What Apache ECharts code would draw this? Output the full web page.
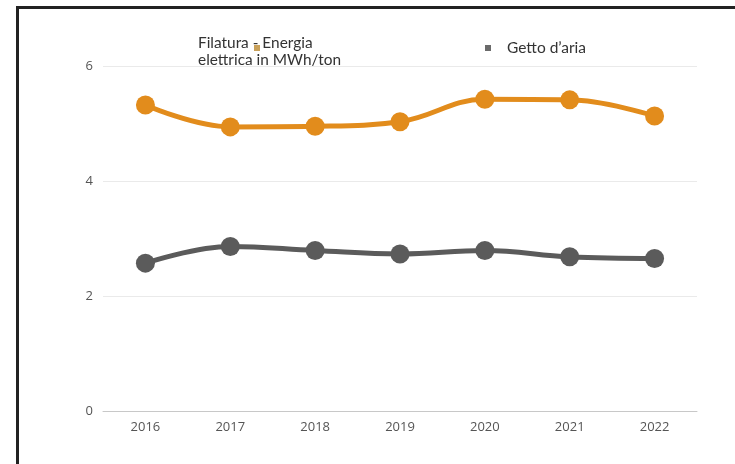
<!DOCTYPE html>
<html>
<head>
<meta charset="utf-8">
<script src="https://cdn.jsdelivr.net/npm/echarts@6/dist/echarts.min.js"></script>
<style>
  html, body { margin: 0; padding: 0; background: #fff; }
  #chart { width: 735px; height: 464px; }
</style>
</head>
<body>
<div id="chart"></div>
<script>
// Years on the category axis
const years = ['2016', '2017', '2018', '2019', '2020', '2021', '2022'];

// Spinning – electricity (MWh/ton)
const filaturaName = 'Filatura - Energia elettrica in MWh/ton';
const filaturaValues = [5.33, 4.95, 4.96, 5.04, 5.43, 5.42, 5.14];

// Air-jet
const gettoName = 'Getto d\u2019aria';
const gettoValues = [2.58, 2.87, 2.80, 2.74, 2.80, 2.69, 2.66];

// Value-axis ticks
const yTicks = [0, 2, 4, 6];

const ORANGE = '#E28C1C';
const GREY = '#5B5B5B';

const chart = echarts.init(document.getElementById('chart'), null, { renderer: 'canvas' });

chart.setOption({
  backgroundColor: '#ffffff',
  animation: false,
  title: {
    text: 'Filatura - Energia\nelettrica in MWh/ton',
    left: 198,
    top: 35,
    padding: 0,
    textStyle: {
      fontFamily: 'Lato',
      fontSize: 15.4,
      fontWeight: 'normal',
      color: '#333333',
      lineHeight: 17
    }
  },
  legend: [
    {
      data: [filaturaName],
      left: 254,
      top: 45,
      padding: 0,
      itemWidth: 6,
      itemHeight: 6,
      icon: 'rect',
      formatter: () => '',
      itemStyle: { color: '#C9A15A' },
      textStyle: { fontSize: 1 },
      selectedMode: false
    },
    {
      data: [gettoName],
      left: 485,
      top: 40,
      padding: 0,
      itemWidth: 6,
      itemHeight: 6,
      icon: 'rect',
      itemStyle: { color: '#6A6A6A' },
      textStyle: {
        fontFamily: 'Lato',
        fontSize: 15.5,
        color: '#333333',
        padding: [0, 0, 0, 11]
      },
      selectedMode: false
    }
  ],
  graphic: [
    {
      type: 'rect',
      shape: { x: 17.5, y: 7.5, width: 900, height: 700 },
      style: { fill: 'none', stroke: '#222222', lineWidth: 3 },
      silent: true
    }
  ],
  grid: {
    left: 103,
    right: 38,
    top: 66.5,
    bottom: 52.5
  },
  xAxis: {
    type: 'category',
    data: years,
    boundaryGap: true,
    axisLine: { show: true, lineStyle: { color: '#C8C8C8', width: 1 } },
    axisTick: { show: false },
    axisLabel: {
      margin: 9,
      fontFamily: 'Open Sans',
      fontSize: 13,
      color: '#555555'
    }
  },
  yAxis: {
    type: 'value',
    min: yTicks[0],
    max: yTicks[yTicks.length - 1],
    interval: 2,
    axisLine: { show: false },
    axisTick: { show: false },
    splitLine: { lineStyle: { color: '#EAEAEA', width: 1 } },
    axisLabel: {
      margin: 10,
      fontFamily: 'Open Sans',
      fontSize: 13,
      color: '#555555'
    }
  },
  series: [
    {
      name: filaturaName,
      type: 'line',
      data: filaturaValues,
      smooth: 0.4,
      symbol: 'circle',
      symbolSize: 19,
      lineStyle: { color: ORANGE, width: 5 },
      itemStyle: { color: ORANGE }
    },
    {
      name: gettoName,
      type: 'line',
      data: gettoValues,
      smooth: 0.4,
      symbol: 'circle',
      symbolSize: 19,
      lineStyle: { color: GREY, width: 5 },
      itemStyle: { color: GREY }
    }
  ]
});
</script>
</body>
</html>
